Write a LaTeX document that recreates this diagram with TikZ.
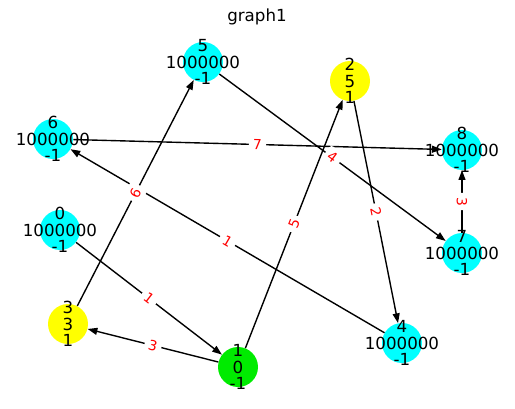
\documentclass[tikz,border=0pt]{standalone}
\usepackage{fontspec}
\setmainfont{DejaVu Sans}
\usetikzlibrary{arrows.meta}
\definecolor{nodecyan}{RGB}{0,255,255}
\definecolor{nodeyellow}{RGB}{255,255,0}
\definecolor{nodegreen}{RGB}{0,235,0}
\begin{document}
\begin{tikzpicture}[x=0.72pt,y=-0.72pt,
  vertex/.style={circle, minimum size=28.8pt, inner sep=0pt, draw=none},
  vtext/.style={align=center, font=\fontsize{12}{12}\selectfont, inner sep=0pt},
  arc/.style={draw=black, line width=1pt, -{Triangle[length=7pt,width=5pt]}},
  weightbox/.style={midway, fill=white, rounded corners=2pt, text=red,
    font=\fontsize{10}{10}\selectfont, inner sep=3pt},
  weight/.style={weightbox, sloped}]
\useasboundingbox (0,0) rectangle (515,409);

% title
\node[font=\fontsize{12}{12}\selectfont] (title) at (257,17) {graph1};

% vertices
\node[vertex, fill=nodecyan]   (n0) at (60,230)  {};
\node[vertex, fill=nodegreen]  (n1) at (238,367) {};
\node[vertex, fill=nodeyellow] (n2) at (350,81)  {};
\node[vertex, fill=nodeyellow] (n3) at (68,324)  {};
\node[vertex, fill=nodecyan]   (n4) at (402,343) {};
\node[vertex, fill=nodecyan]   (n5) at (203,62)  {};
\node[vertex, fill=nodecyan]   (n6) at (53,139)  {};
\node[vertex, fill=nodecyan]   (n7) at (462,253) {};
\node[vertex, fill=nodecyan]   (n8) at (462,150) {};

% directed edges
\draw[arc] (n3) -- (n5);
\draw[arc] (n5) -- (n7);
\draw[arc] (n2) -- (n4);
\draw[arc] (n1) -- (n2);
\draw[arc] (n6) -- (n8);
\draw[arc] (n7) -- (n8);
\draw[arc] (n4) -- (n6);
\draw[arc] (n0) -- (n1);
\draw[arc] (n1) -- (n3);

% edge weights
\path (n3) -- (n5) node[weight] (w35) {6};
\path (n5) -- (n7) node[weight] (w57) {4};
\path (n2) -- (n4) node[weight] (w24) {2};
\path (n1) -- (n2) node[weight] (w12) {5};
\path (n6) -- (n8) node[weight] (w68) {7};
\path (n7) -- (n8) node[weightbox, rotate=-90] (w78) {3};
\path (n4) -- (n6) node[weight] (w46) {1};
\path (n0) -- (n1) node[weight] (w01) {1};
\path (n1) -- (n3) node[weight] (w13) {3};

% vertex labels
\node[vtext] (t0) at (n0) {0\\1000000\\-1};
\node[vtext] (t1) at (n1) {1\\0\\-1};
\node[vtext] (t2) at (n2) {2\\5\\1};
\node[vtext] (t3) at (n3) {3\\3\\1};
\node[vtext] (t4) at (n4) {4\\1000000\\-1};
\node[vtext] (t5) at (n5) {5\\1000000\\-1};
\node[vtext] (t6) at (n6) {6\\1000000\\-1};
\node[vtext] (t7) at (n7) {7\\1000000\\-1};
\node[vtext] (t8) at (n8) {8\\1000000\\-1};
\end{tikzpicture}
\end{document}
